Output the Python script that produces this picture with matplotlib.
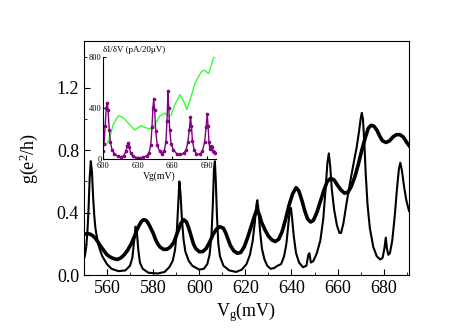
import matplotlib
matplotlib.use("Agg")
import matplotlib.pyplot as plt
from matplotlib.ticker import MultipleLocator, FormatStrFormatter

plt.rcParams['font.family'] = ['Liberation Serif', 'DejaVu Serif']
plt.rcParams['mathtext.fontset'] = 'custom'
plt.rcParams['mathtext.rm'] = 'Liberation Serif'
plt.rcParams['mathtext.it'] = 'Liberation Serif:italic'

# Main plot: sharp (thin) conductance trace
vg_thin = [550, 550.5, 551, 551.5, 552, 552.5, 553, 553.5, 554, 554.5, 555, 556, 557, 558,
           560, 562, 565, 568, 570, 571, 571.8, 572.4, 573, 573.6, 574.3, 575.5, 578,
           582, 585, 587, 588.5, 589.5, 590.3, 590.9, 591.4, 591.9, 592.5, 593.2, 594,
           595.5, 597, 600, 602, 603.5, 604.5, 605.3, 605.9, 606.4, 606.8, 607.2, 607.7,
           608.3, 609, 610.5, 613, 616, 618.5, 620.5, 622, 623.2, 624.2, 624.8, 625.2,
           625.7, 626.4, 627.2, 628.3, 629.5, 631, 632.5, 634, 635.5, 636.8, 637.8,
           638.6, 639.3, 639.8, 640.3, 641, 642, 643.3, 645, 646.5, 647.3, 647.8, 648.4,
           649.5, 651, 652.5, 653.8, 654.8, 655.6, 656.2, 656.8, 657.5, 658.5, 659.7,
           660.8, 661.5, 662.5, 664, 665.5, 667, 668.3, 669.3, 670, 670.5, 671, 671.6,
           672.2, 673, 674, 675.5, 677, 678.5, 679.5, 680.3, 680.9, 681.4, 682, 682.7,
           683.7, 684.8, 685.8, 686.6, 687.2, 687.9, 688.8, 689.8, 691]
g_thin = [0.10, 0.13, 0.18, 0.27, 0.42, 0.62, 0.73, 0.66, 0.50, 0.38, 0.30, 0.21, 0.16, 0.12,
          0.07, 0.04, 0.025, 0.03, 0.06, 0.11, 0.22, 0.31, 0.27, 0.16, 0.08, 0.04, 0.015,
          0.01, 0.02, 0.05, 0.09, 0.16, 0.28, 0.45, 0.60, 0.52, 0.36, 0.23, 0.15,
          0.09, 0.06, 0.035, 0.04, 0.07, 0.13, 0.25, 0.45, 0.68, 0.73, 0.60, 0.38,
          0.20, 0.12, 0.06, 0.03, 0.02, 0.035, 0.07, 0.13, 0.22, 0.35, 0.45, 0.48,
          0.42, 0.28, 0.17, 0.10, 0.06, 0.04, 0.045, 0.06, 0.07, 0.12, 0.20,
          0.32, 0.42, 0.43, 0.36, 0.25, 0.14, 0.08, 0.05, 0.06, 0.13, 0.14, 0.08,
          0.09, 0.14, 0.22, 0.36, 0.55, 0.72, 0.78, 0.70, 0.55, 0.42, 0.32,
          0.27, 0.27, 0.33, 0.47, 0.60, 0.72, 0.82, 0.92, 1.00, 1.04, 1.00, 0.85,
          0.65, 0.45, 0.30, 0.18, 0.12, 0.10, 0.11, 0.17, 0.24, 0.17, 0.13, 0.14,
          0.22, 0.38, 0.56, 0.68, 0.72, 0.67, 0.57, 0.48, 0.41]

# Main plot: broad (thick) conductance trace
vg_thick = [550, 551, 552, 553, 554, 555, 556, 557, 558, 559, 560, 561.5, 563, 564.5, 566,
            567.5, 569, 570.5, 572, 573, 574, 575, 576, 577, 578, 579, 580, 581, 582, 583,
            584.5, 586, 587.5, 589, 590.5, 592, 593.3, 594.5, 595.5, 596.5, 597.5, 598.5,
            600, 601.5, 603, 604.5, 606, 607.5, 609, 610.5, 611.5, 612.5, 613.5, 615,
            616.5, 618, 619.5, 621, 622.5, 624, 625, 626, 627, 628.5, 630, 631.5, 633,
            634.5, 636, 637.5, 639, 640.5, 642, 643.2, 644.5, 645.8, 647, 648.3, 649.5,
            651, 652.5, 654, 655.5, 657, 658.5, 660, 661.5, 663, 664.5, 666, 667.5, 669,
            670.5, 672, 673.3, 674.5, 675.7, 677, 678.3, 679.5, 681, 682.5, 684, 685.5,
            687, 688.5, 690, 691]
g_thick = [0.26, 0.265, 0.265, 0.26, 0.25, 0.235, 0.215, 0.19, 0.17, 0.15, 0.13, 0.115, 0.105,
           0.10, 0.11, 0.13, 0.16, 0.20, 0.25, 0.29, 0.32, 0.345, 0.355, 0.35, 0.33, 0.30,
           0.27, 0.23, 0.20, 0.18, 0.165, 0.165, 0.18, 0.21, 0.27, 0.33, 0.355, 0.34, 0.30,
           0.25, 0.20, 0.17, 0.15, 0.15, 0.17, 0.21, 0.26, 0.295, 0.31, 0.30, 0.27, 0.23,
           0.19, 0.155, 0.14, 0.145, 0.18, 0.24, 0.31, 0.38, 0.42, 0.39, 0.34, 0.29, 0.25,
           0.225, 0.215, 0.23, 0.28, 0.36, 0.45, 0.52, 0.56, 0.54, 0.48, 0.41, 0.36, 0.34,
           0.35, 0.40, 0.47, 0.54, 0.60, 0.62, 0.61, 0.575, 0.545, 0.525, 0.53, 0.57, 0.63,
           0.71, 0.80, 0.88, 0.94, 0.96, 0.955, 0.93, 0.89, 0.86, 0.85, 0.86, 0.885, 0.90,
           0.90, 0.885, 0.85, 0.83]

# Inset: dI/dV traces
vg_green = [600, 603, 606, 609, 613, 614.5, 618, 622, 627.6, 633, 637, 640.6, 645,
            649, 653.7, 656.6, 659, 662, 666.8, 670, 672.6, 676, 679.8, 683, 685.6,
            688, 691.5, 694, 695.8, 697.8]
didv_green = [136, 110, 170, 270, 333, 338, 320, 280, 228, 260, 245, 233, 270,
              333, 360, 333, 345, 420, 504, 450, 386, 480, 595, 650, 687,
              695, 669, 740, 792, 805]

vg_purple = [600, 601, 602, 603, 603.7, 604.5, 605.5, 606.5, 608, 610, 613, 616, 618,
             620, 621, 622, 623, 624, 626, 629, 632, 635, 638, 640, 641.5, 642.5,
             643.3, 644, 644.8, 645.7, 647, 649, 651, 653, 654.5, 655.5, 656.3, 657,
             657.8, 659, 661, 664, 667, 670, 672, 673.5, 674.8, 675.8, 676.6, 677.5,
             679, 681, 684, 686, 688, 689.3, 690.3, 691, 691.8, 692.5, 693.5, 694.2,
             695, 696, 697]
didv_purple = [60, 120, 260, 400, 440, 380, 230, 130, 70, 40, 20, 15, 25,
               60, 100, 128, 90, 45, 20, 10, 8, 12, 25, 50, 110, 250,
               400, 470, 380, 220, 110, 60, 40, 60, 130, 300, 530, 400,
               230, 120, 70, 40, 35, 45, 70, 130, 230, 328, 260, 140,
               70, 40, 35, 60, 130, 250, 351, 260, 130, 80, 100, 90,
               60, 55, 50]

fig = plt.figure(figsize=(4.74, 3.31), dpi=100)
ax = fig.add_axes([0.177, 0.169, 0.686, 0.707])

ax.plot(vg_thin, g_thin, color='black', lw=1.5, solid_joinstyle='round')
ax.plot(vg_thick, g_thick, color='black', lw=2.6, solid_joinstyle='round')

ax.set_xlim(550, 691)
ax.set_ylim(0, 1.5)
ax.xaxis.set_major_locator(MultipleLocator(20))
ax.xaxis.set_minor_locator(MultipleLocator(10))
ax.yaxis.set_major_locator(MultipleLocator(0.4))
ax.yaxis.set_minor_locator(MultipleLocator(0.2))
ax.yaxis.set_major_formatter(FormatStrFormatter('%.1f'))
ax.tick_params(which='both', direction='in', labelsize=13)
ax.tick_params(which='major', length=4)
ax.tick_params(which='minor', length=2.5)
ax.set_xlabel('V$_\\mathrm{g}$(mV)', fontsize=13, labelpad=2)
ax.set_ylabel('g(e$^\\mathrm{2}$/h)', fontsize=13, labelpad=12)

# Inset
ins = fig.add_axes([0.217, 0.520, 0.239, 0.308])
ins.plot(vg_green, didv_green, color='#33ff33', lw=1.0)
ins.plot(vg_purple, didv_purple, color='#800080', lw=1.0, marker='o', ms=1.6,
         mfc='#a040a0', mec='#800080')
ins.set_xlim(600, 698)
ins.set_ylim(0, 800)
ins.set_xticks([600, 630, 660, 690])
ins.set_yticks([0, 400, 800])
ins.spines['top'].set_visible(False)
ins.spines['right'].set_visible(False)
ins.tick_params(direction='in', labelsize=6, length=2, pad=1)
ins.tick_params(axis='x', pad=2.5)
ins.set_xlabel('Vg(mV)', fontsize=7, labelpad=1)
ins.text(0.0, 1.03, 'δI/δV (pA/20μV)', transform=ins.transAxes, fontsize=6.5,
         ha='left', va='bottom')

fig.savefig('out.png', dpi=100)
